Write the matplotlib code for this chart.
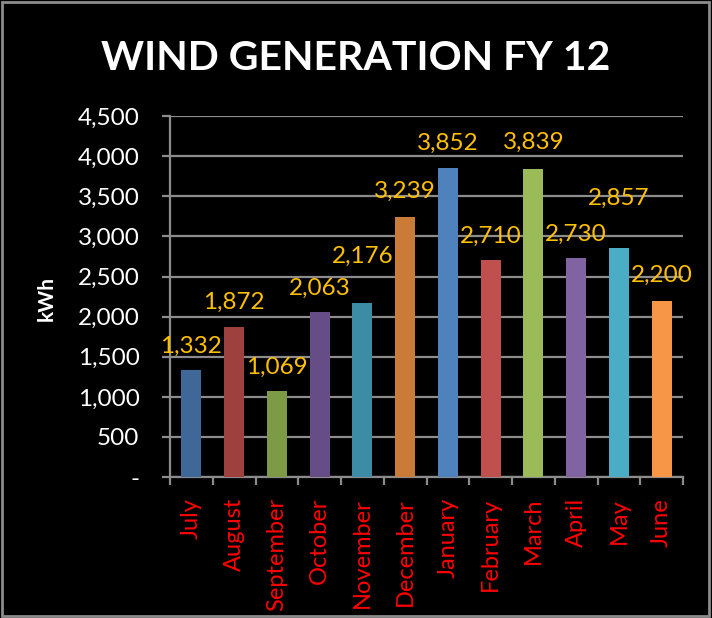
import matplotlib.pyplot as plt
from matplotlib.patches import Rectangle
from matplotlib.ticker import FuncFormatter, FixedLocator

months = ['July', 'August', 'September', 'October', 'November', 'December',
          'January', 'February', 'March', 'April', 'May', 'June']
kwh = [1332, 1872, 1069, 2063, 2176, 3239, 3852, 2710, 3839, 2730, 2857, 2200]
bar_colors = ['#3F6798', '#9E413E', '#7D9A46', '#664D87', '#3B8CA4', '#C97B37',
              '#4F81BD', '#C0504D', '#9BBB59', '#8064A2', '#4BACC6', '#F79646']
# vertical gap (points) between bar top and its value label, as in the original
label_gap = [17, 18, 17, 17, 33, 19, 18, 17, 19, 17, 36, 18]

plt.rcParams['font.family'] = ['Lato', 'DejaVu Sans']

fig = plt.figure(figsize=(7.12, 6.18), dpi=100, facecolor='black')
ax = fig.add_axes([0.2388, 0.228, 0.9593 - 0.2388, 0.5841])
ax.set_facecolor('black')

x = range(len(months))
ax.bar(x, kwh, width=0.47, color=bar_colors, zorder=3)

for i, v in enumerate(kwh):
    ax.annotate(f'{v:,}', (i, v), xytext=(0, label_gap[i]), textcoords='offset points',
                ha='center', va='center', color='#FFC000', fontsize=17.5, zorder=4)

ax.set_xlim(-0.5, len(months) - 0.5)
ax.set_ylim(0, 4500)
ax.set_yticks(range(0, 4501, 500))
ax.yaxis.set_major_formatter(FuncFormatter(lambda v, p: '-' if v == 0 else f'{v:,.0f}'))
ax.grid(axis='y', color='#8C8C8C', linewidth=1.6, zorder=0)

ax.xaxis.set_major_locator(FixedLocator([i - 0.5 for i in range(len(months) + 1)]))
ax.xaxis.set_minor_locator(FixedLocator(list(x)))
ax.set_xticklabels([])
ax.set_xticklabels(months, minor=True, rotation=90, va='top', ha='center',
                   color='#FF0000', fontsize=17)
ax.tick_params(axis='x', which='major', length=6, width=1.6, color='#8C8C8C')
ax.tick_params(axis='x', which='minor', length=0, pad=15)
ax.tick_params(axis='y', length=6, width=1.6, color='#8C8C8C', labelcolor='white',
               labelsize=17.5, pad=16)

for side in ['top', 'right']:
    ax.spines[side].set_visible(False)
for side in ['left', 'bottom']:
    ax.spines[side].set_color('#8C8C8C')
    ax.spines[side].set_linewidth(1.6)

ax.set_ylabel('kWh', color='white', fontsize=15, fontweight='bold')
ax.yaxis.set_label_coords(-0.22, 0.495)

fig.text(0.499, 0.905, 'WIND GENERATION FY 12', ha='center', va='center',
         color='white', fontsize=29.5, fontweight='bold')

fig.patches.append(Rectangle((0.003, 0.004), 0.993, 0.992, transform=fig.transFigure,
                             fill=False, edgecolor='#8C8C8C', linewidth=2))

fig.savefig('out.png', dpi=100, facecolor='black')
